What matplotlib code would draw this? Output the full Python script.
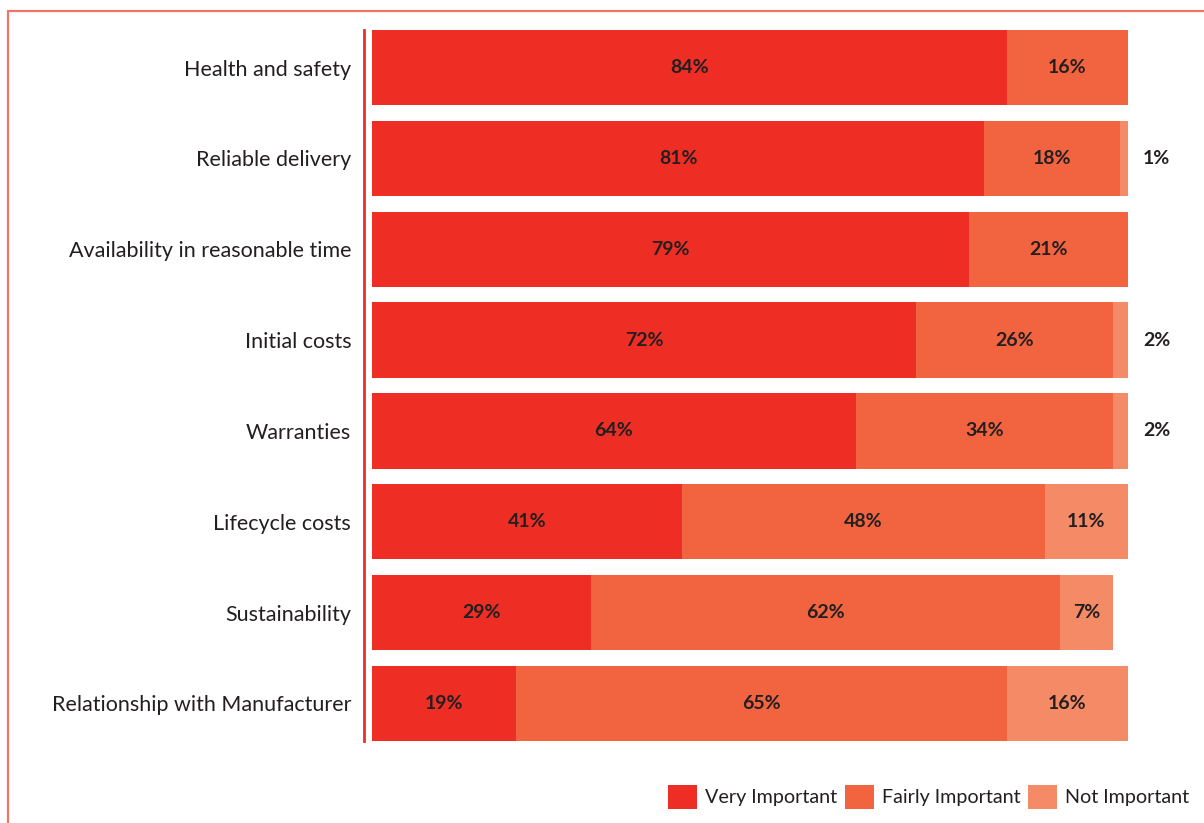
import matplotlib.pyplot as plt
from matplotlib.patches import Rectangle, Patch

categories = [
    "Health and safety",
    "Reliable delivery",
    "Availability in reasonable time",
    "Initial costs",
    "Warranties",
    "Lifecycle costs",
    "Sustainability",
    "Relationship with Manufacturer",
]
very_important = [84, 81, 79, 72, 64, 41, 29, 19]
fairly_important = [16, 18, 21, 26, 34, 48, 62, 65]
not_important = [0, 1, 0, 2, 2, 11, 7, 16]
series_names = ["Very Important", "Fairly Important", "Not Important"]

colors = ["#EE2E24", "#F1643F", "#F58A66"]
text_color = "#231F20"
plt.rcParams["font.family"] = ["Lato", "DejaVu Sans"]

W, H = 1204, 823
fig = plt.figure(figsize=(W / 100, H / 100), dpi=100)

# axes placed in pixel terms: bars span x 372..1128, y 30..741
left, right, top, bottom = 372, 1128, 30, 741
ax = fig.add_axes([left / W, 1 - bottom / H, (right - left) / W, (bottom - top) / H])

bar_h = 0.83
y = list(range(len(categories)))
series = [very_important, fairly_important, not_important]
starts = [0] * len(categories)
for vals, col in zip(series, colors):
    ax.barh(y, vals, left=starts, height=bar_h, color=col, edgecolor="none")
    for i, (s, v) in enumerate(zip(starts, vals)):
        if v == 0:
            continue
        if v >= 5:
            ax.text(s + v / 2, i, f"{v}%", ha="center", va="center",
                    fontsize=14, fontweight="bold", color=text_color)
        else:
            ax.text(103.8, i, f"{v}%", ha="center", va="center",
                    fontsize=14, fontweight="bold", color=text_color,
                    clip_on=False)
    starts = [s + v for s, v in zip(starts, vals)]

ax.set_xlim(0, 100)
ax.set_ylim(len(categories) - 1 + bar_h / 2, -bar_h / 2)
ax.tick_params(axis="y", length=0, pad=9, labelsize=15.5, labelcolor=text_color)
ax.set_yticks(y)
ax.set_yticklabels(categories)
ax.set_xticks([])
for side in ["top", "right", "bottom"]:
    ax.spines[side].set_visible(False)
ax.spines["left"].set_position(("outward", 6))
ax.spines["left"].set_color("#EE2E24")
ax.spines["left"].set_linewidth(2)

# outer frame
fig.patches.append(Rectangle((8 / W, -0.05), 1.1, 1 - 11 / H + 0.05,
                             transform=fig.transFigure, fill=False,
                             edgecolor="#F07468", linewidth=1.6))

handles = [Patch(facecolor=c, edgecolor="none") for c in colors]
fig.legend(handles, series_names, loc="center right",
           bbox_to_anchor=(1189 / W, 1 - 797 / H), ncol=3, frameon=False,
           prop={"size": 14.2}, handlelength=1.45,
           handleheight=1.55, handletextpad=0.42, columnspacing=0.38,
           borderpad=0, borderaxespad=0, labelcolor=text_color)

fig.savefig("out.png", dpi=100)
